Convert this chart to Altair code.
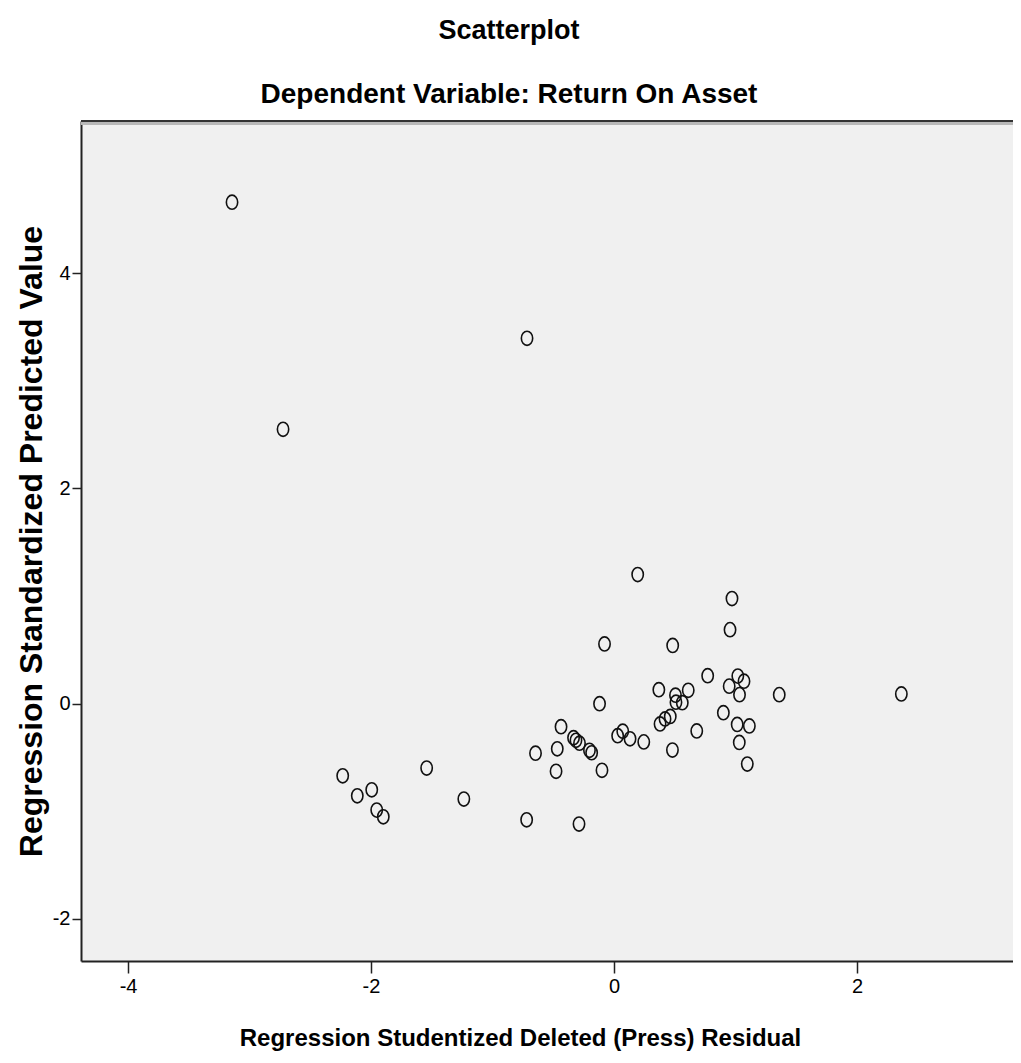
import altair as alt
import pandas as pd

# Residuals (x) and standardized predicted values (y)
resid = [-3.144, -0.716, -2.724, 0.195, 0.971, 0.955, -0.078, 0.483, 0.771, 1.019,
         1.070, 0.948, 1.033, 1.360, 2.365, 0.369, 0.611, 0.506, 0.510, 0.562,
         -0.119, 0.900, 0.463, 0.420, 0.379, 1.014, 1.114, 0.681, 0.072, 0.030,
         0.132, 0.245, 1.031, 0.481, 1.097, -0.099, -0.436, -0.646, -0.467, -0.477,
         -0.333, -0.313, -0.284, -0.202, -0.184, -2.233, -2.113, -1.994, -1.953, -1.899,
         -1.542, -1.236, -0.719, -0.288]
pred = [4.660, 3.395, 2.549, 1.200, 0.977, 0.688, 0.555, 0.541, 0.260, 0.256,
        0.209, 0.163, 0.084, 0.084, 0.090, 0.130, 0.124, 0.079, 0.014, 0.009,
        0.000, -0.084, -0.119, -0.142, -0.188, -0.193, -0.207, -0.253, -0.256, -0.298,
        -0.326, -0.355, -0.360, -0.431, -0.561, -0.619, -0.214, -0.460, -0.419, -0.628,
        -0.316, -0.340, -0.367, -0.433, -0.456, -0.670, -0.856, -0.800, -0.989, -1.051,
        -0.598, -0.886, -1.079, -1.119]

x_ticks = [-4, -2, 0, 2]
y_ticks = [-2, 0, 2, 4]

W, H = 932, 840
df = pd.DataFrame({"resid": resid, "pred": pred})

FONT = "Liberation Sans"
ellipse = "M -0.8 0 A 0.8 1 0 1 1 0.8 0 A 0.8 1 0 1 1 -0.8 0 Z"

points = alt.Chart(df).mark_point(
    shape=ellipse, filled=False, stroke="#111111", strokeWidth=1.6,
    size=200, opacity=1
).encode(
    x=alt.X("resid:Q",
            scale=alt.Scale(domain=[-4.387, 3.284], nice=False, zero=False),
            axis=alt.Axis(values=x_ticks, grid=False,
                          labelExpr="'' + datum.value",
                          title="Regression Studentized Deleted (Press) Residual",
                          titleFont=FONT, titleFontSize=24, titleFontWeight="bold",
                          titleColor="#000000", titlePadding=30, titleX=439,
                          labelFont=FONT, labelFontSize=20, labelColor="#000000",
                          labelPadding=3, tickSize=12, tickWidth=1.5,
                          tickColor="#222222", domainColor="#222222",
                          domainWidth=2)),
    y=alt.Y("pred:Q",
            scale=alt.Scale(domain=[-2.391, 5.414], nice=False, zero=False),
            axis=alt.Axis(values=y_ticks, grid=False,
                          labelExpr="'' + datum.value",
                          title="Regression Standardized Predicted Value",
                          titleFont=FONT, titleFontSize=32, titleFontWeight="bold",
                          titleColor="#000000", titlePadding=4,
                          labelFont=FONT, labelFontSize=20, labelColor="#000000",
                          labelPadding=2, tickSize=9, tickWidth=1.5,
                          tickColor="#222222", domainColor="#222222",
                          domainWidth=2)),
)

top_border = alt.Chart(df).mark_rule(color="#333333", strokeWidth=2).encode(
    x=alt.value(0), x2=alt.value(W), y=alt.value(0)
)
top_shadow = alt.Chart(df).mark_rule(color="#b8b8b8", strokeWidth=1.5).encode(
    x=alt.value(0), x2=alt.value(W), y=alt.value(2.5)
)

chart = alt.layer(top_border, top_shadow, points).properties(
    width=W, height=H,
    title=alt.Title(
        text="Scatterplot",
        subtitle="Dependent Variable: Return On Asset",
        font=FONT, fontSize=27, fontWeight="bold", color="#000000",
        subtitleFont=FONT, subtitleFontSize=28, subtitleFontWeight="bold",
        subtitleColor="#000000", subtitlePadding=36,
        anchor="middle", dx=-38, offset=10,
    ),
    autosize=alt.AutoSizeParams(type="none"),
    padding={"left": 73, "top": 113, "right": 0, "bottom": 92},
).configure_view(
    fill="#F0F0F0", strokeWidth=0
)

chart.save("out.html", embed_options={"renderer": "svg", "actions": False})
